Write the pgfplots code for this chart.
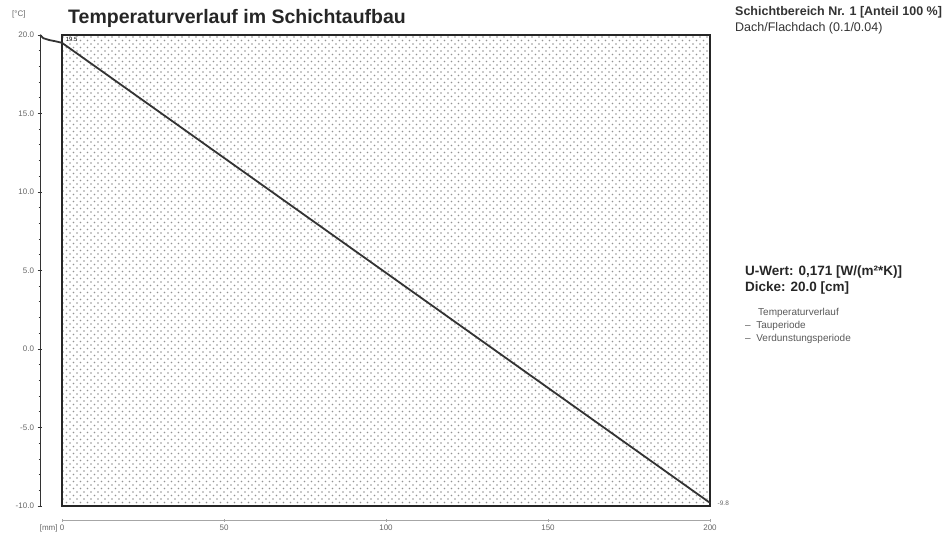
\documentclass[border=0pt]{standalone}
\usepackage{pgfplots}
\pgfplotsset{compat=1.18}
\usetikzlibrary{patterns}
\usepackage{fontspec}
\setmainfont{Liberation Sans}
\pgfdeclarepatternformonly{sparsedots}{\pgfqpoint{-1pt}{-1pt}}{\pgfqpoint{8pt}{8pt}}{\pgfqpoint{7pt}{7pt}}{%
  \pgfpathcircle{\pgfqpoint{0pt}{0pt}}{0.8pt}%
  \pgfpathcircle{\pgfqpoint{3.5pt}{3.5pt}}{0.8pt}%
  \pgfusepath{fill}}
\begin{document}
\begin{tikzpicture}[x=1pt,y=1pt]
\useasboundingbox (0,0) rectangle (950,541);
% left temperature axis
\begin{axis}[at={(40pt,35pt)}, anchor=south west, scale only axis,
  width=1pt, height=471pt, xmin=0, xmax=1, ymin=-10, ymax=20,
  axis y line=left, axis x line=none,
  axis line style={-, black!80, line width=1pt},
  ytick={-10,-5,0,5,10,15,20}, minor ytick={-9,...,19},
  tick align=center, major tick length=5pt, minor tick length=3pt,
  tick style={black!80, line width=0.8pt},
  yticklabel style={font=\fontsize{8}{9}\selectfont, text=gray!80!black,
    /pgf/number format/.cd, fixed, fixed zerofill, precision=1, assume math mode=true}]
\addplot[draw=none] coordinates {(0,0)};
\end{axis}
% x axis
\begin{axis}[at={(62pt,21pt)}, anchor=south west, scale only axis,
  width=648pt, height=1pt, xmin=0, xmax=200, ymin=0, ymax=1,
  axis x line=bottom, axis y line=none,
  axis line style={-, gray!70, line width=0.8pt},
  xtick={0,50,100,150,200}, xticklabels={\llap{[mm]\ }0,50,100,150,200},
  major tick length=3pt, tick style={gray!70},
  xticklabel style={font=\fontsize{8}{9}\selectfont, text=gray!80!black}]
\addplot[draw=none] coordinates {(0,0)};
\end{axis}
% main box
\begin{axis}[at={(62pt,35pt)}, anchor=south west, scale only axis,
  width=648pt, height=471pt, xmin=0, xmax=200, ymin=-10, ymax=20,
  ticks=none, clip=false,
  axis line style={line width=1.6pt, black!85},
  axis background/.style={pattern=sparsedots, pattern color=gray!85}]
\addplot[line width=1.8pt, black!80] coordinates {(-6.8,20.0) (-5.8,19.8) (-4,19.68) (-2,19.6) (0,19.5) (200,-9.8)};
\node[font=\fontsize{6}{7}\selectfont, anchor=north west, inner sep=1pt, fill=white] at (axis cs:0.8,19.9) {19.5};
\node[font=\fontsize{6.5}{7}\selectfont, anchor=west, inner sep=1pt, text=gray!80!black] at (axis cs:202,-9.8) {-9.8};
\end{axis}
% texts
\node[anchor=base west, inner sep=0pt, font=\bfseries\fontsize{19.5}{22}\selectfont, text=black!85] at (68,517) {Temperaturverlauf im Schichtaufbau};
\node[anchor=west, inner sep=0pt, font=\fontsize{8}{9}\selectfont, text=gray!80!black] at (12,527) {[°C]};
\node[anchor=base west, inner sep=0pt, font=\bfseries\fontsize{12.5}{14}\selectfont, text=black!80] at (735,525) {Schichtbereich Nr. 1 [Anteil 100 \%]};
\node[anchor=base west, inner sep=0pt, font=\fontsize{12.5}{14}\selectfont, text=black!80] at (735,509) {Dach/Flachdach (0.1/0.04)};
\node[anchor=base west, inner sep=0pt, font=\bfseries\fontsize{13.5}{15}\selectfont, text=black!85] at (745,265) {U-Wert: 0,171 [W/(m²*K)]};
\node[anchor=base west, inner sep=0pt, font=\bfseries\fontsize{13.5}{15}\selectfont, text=black!85] at (745,249) {Dicke: 20.0 [cm]};
\node[anchor=base west, inner sep=0pt, font=\fontsize{10}{11}\selectfont, text=gray!70!black] at (758,225) {Temperaturverlauf};
\node[anchor=base west, inner sep=0pt, font=\fontsize{10}{11}\selectfont, text=gray!70!black] at (745,212) {--\ \ Tauperiode};
\node[anchor=base west, inner sep=0pt, font=\fontsize{10}{11}\selectfont, text=gray!70!black] at (745,199) {--\ \ Verdunstungsperiode};
\end{tikzpicture}
\end{document}
